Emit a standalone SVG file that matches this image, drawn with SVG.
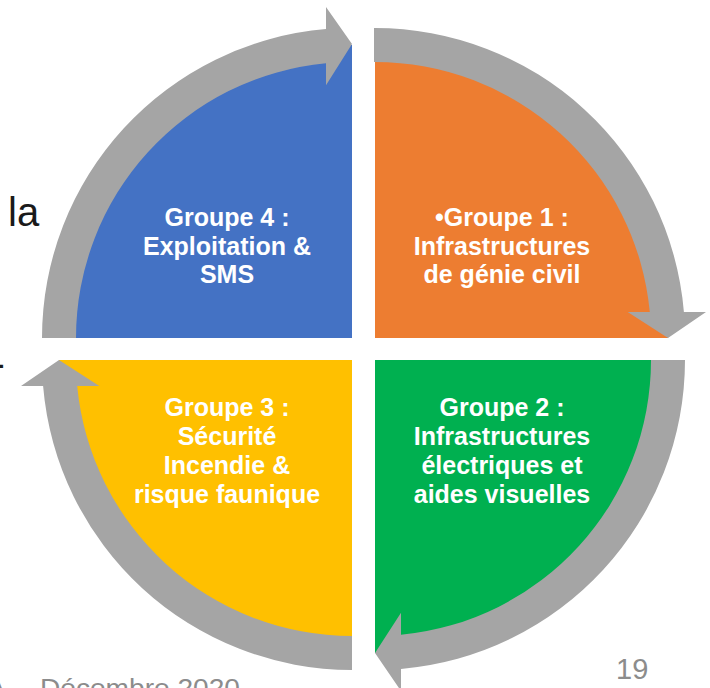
<svg xmlns="http://www.w3.org/2000/svg" width="710" height="688" viewBox="0 0 710 688">
  <style>
    .lbl { font-family: "Liberation Sans", Arial, sans-serif; font-weight: bold; font-size: 25px; fill: #FFFFFF; text-anchor: middle; }
    .arrow { fill: #A5A5A5; }
    .side { font-family: "Liberation Sans", Arial, sans-serif; font-size: 40px; fill: #1A1A1A; }
    .foot { font-family: "Liberation Sans", Arial, sans-serif; fill: #8C8C8C; }
  </style>
  <rect width="710" height="688" fill="#FFFFFF"/>

  <!-- background slide text fragments -->
  <text class="side" x="8" y="226">la</text>
  <text class="side" x="-8.6" y="377">-</text>
  <text class="foot" x="-12" y="697" font-size="26">A</text>
  <text class="foot" x="40" y="697" font-size="26" textLength="200" lengthAdjust="spacingAndGlyphs">Décembre 2020</text>
  <text class="foot" x="616" y="679" font-size="29">19</text>

  <g id="groupe4">
    <path d="M352,338 L59,338 A293,293 0 0 1 352,45 Z" fill="#4472C4"/>
    <text class="lbl" x="227" y="226">Groupe 4 :</text>
    <text class="lbl" x="227" y="254.5">Exploitation &amp;</text>
    <text class="lbl" x="227" y="283">SMS</text>
  </g>
  <g id="groupe1">
    <path d="M375,338 L375,45 A293,293 0 0 1 668,338 Z" fill="#ED7D31"/>
    <text class="lbl" x="502" y="226">•Groupe 1 :</text>
    <text class="lbl" x="502" y="254.5">Infrastructures</text>
    <text class="lbl" x="502" y="283">de génie civil</text>
  </g>
  <g id="groupe2">
    <path d="M375,360 L668,360 A293,293 0 0 1 375,653 Z" fill="#00B050"/>
    <text class="lbl" x="502" y="416">Groupe 2 :</text>
    <text class="lbl" x="502" y="445">Infrastructures</text>
    <text class="lbl" x="502" y="474">électriques et</text>
    <text class="lbl" x="502" y="503">aides visuelles</text>
  </g>
  <g id="groupe3">
    <path d="M352,360 L352,653 A293,293 0 0 1 59,360 Z" fill="#FFC000"/>
    <text class="lbl" x="227" y="416">Groupe 3 :</text>
    <text class="lbl" x="227" y="445">Sécurité</text>
    <text class="lbl" x="227" y="474">Incendie &amp;</text>
    <text class="lbl" x="227" y="503">risque faunique</text>
  </g>

  <g id="connectors">
    <path class="arrow" d="M42,338 A310,310 0 0 1 326,29.1 L326,7 L352,44 L326,85.3 L326,63.2 A276,276 0 0 0 76,338 Z"/>
    <path class="arrow" d="M374,28 A310,310 0 0 1 683.9,312 L706,312 L668,338 L627.7,312 L649.8,312 A276,276 0 0 0 374,62 Z"/>
    <path class="arrow" d="M685,360 A310,310 0 0 1 401,668.9 L401,691 L375,653 L401,612.7 L401,634.8 A276,276 0 0 0 651,360 Z"/>
    <path class="arrow" d="M352,670 A310,310 0 0 1 43.1,386 L21,386 L59,360 L99.3,386 L77.2,386 A276,276 0 0 0 352,636 Z"/>
  </g>
</svg>
